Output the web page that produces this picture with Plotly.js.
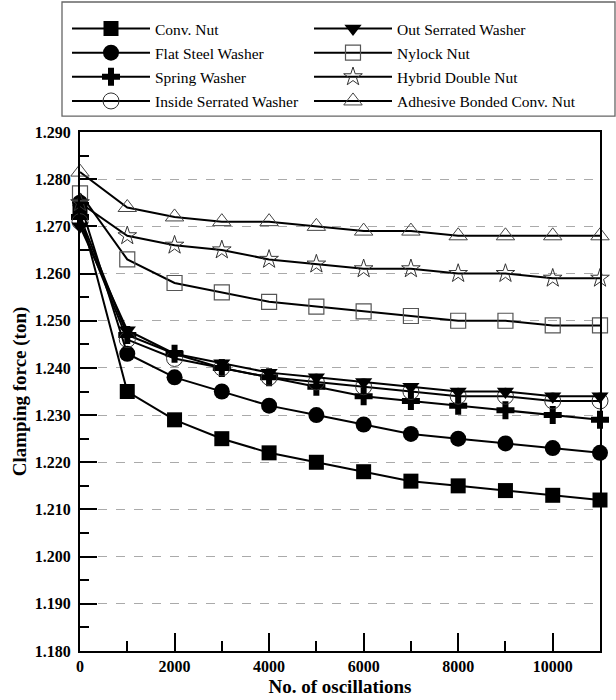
<!DOCTYPE html>
<html><head><meta charset="utf-8">
<script src="https://cdn.plot.ly/plotly-3.0.1.min.js"></script>
<style>html,body{margin:0;padding:0;background:#fff}#chart{width:616px;height:700px}</style>
</head><body><div id="chart"></div>
<script>
const oscillations = [0,1000,2000,3000,4000,5000,6000,7000,8000,9000,10000,11000];
const convNut        = [1.273,1.235,1.229,1.225,1.222,1.220,1.218,1.216,1.215,1.214,1.213,1.212];
const flatSteel      = [1.275,1.243,1.238,1.235,1.232,1.230,1.228,1.226,1.225,1.224,1.223,1.222];
const springWasher   = [1.272,1.247,1.243,1.240,1.238,1.236,1.234,1.233,1.232,1.231,1.230,1.229];
const insideSerrated = [1.271,1.246,1.242,1.240,1.238,1.237,1.236,1.235,1.234,1.234,1.233,1.233];
const outSerrated    = [1.270,1.248,1.243,1.241,1.239,1.238,1.237,1.236,1.235,1.235,1.234,1.234];
const nylockNut      = [1.277,1.263,1.258,1.256,1.254,1.253,1.252,1.251,1.250,1.250,1.249,1.249];
const hybridDouble   = [1.275,1.268,1.266,1.265,1.263,1.262,1.261,1.261,1.260,1.260,1.259,1.259];
const adhesiveBonded = [1.2815,1.274,1.272,1.271,1.271,1.270,1.269,1.269,1.268,1.268,1.268,1.268];
const seriesNames = ['Conv. Nut','Flat Steel Washer','Spring Washer','Inside Serrated Washer',
                     'Out Serrated Washer','Nylock Nut','Hybrid Double Nut','Adhesive Bonded Conv. Nut'];
const xTickVals = [0,2000,4000,6000,8000,10000];

const FONT = 'Liberation Serif, Times New Roman, serif';
const seriesData = [convNut, flatSteel, springWasher, insideSerrated, outSerrated, nylockNut, hybridDouble, adhesiveBonded];
const markerStyles = [
  {symbol:'square', size:15, color:'#000'},
  {symbol:'circle', size:16, color:'#000'},
  {symbol:'cross', size:15, color:'#000'},
  {symbol:'circle-open', size:16, color:'#333', line:{width:1,color:'#333'}},
  {symbol:'triangle-down', size:15, color:'#000'},
  {symbol:'square-open', size:15, color:'#555', line:{width:1.2,color:'#555'}},
  {symbol:'star-open', size:14, color:'#333', line:{width:1,color:'#333'}},
  {symbol:'triangle-up-open', size:16, color:'#444', line:{width:1,color:'#444'}}
];
const traces = seriesData.map((y,i)=>({
  type:'scatter', mode:'lines+markers', x:oscillations, y:y, name:seriesNames[i],
  legendgroup:'g'+i,
  line:{color:'#000', width:2}, marker:markerStyles[i],
  legend: i<4 ? 'legend' : 'legend2', cliponaxis:false
}));

const L=80, R=600, T=128, B=651, W=616, H=700;
const px2x = p => (p-L)/(R-L);
const py2y = p => (B-p)/(B-T);

const legendCommon = {
  font:{family:FONT, size:15.5, color:'#000'}, bgcolor:'rgba(0,0,0,0)', borderwidth:0,
  yanchor:'top', xanchor:'left', itemwidth:78, tracegroupgap:1, traceorder:'grouped'
};
const layout = {
  width:W, height:H, margin:{l:L, r:W-R, t:T, b:H-B},
  paper_bgcolor:'#fff', plot_bgcolor:'#fff',
  font:{family:FONT, color:'#000'},
  showlegend:true,
  legend:Object.assign({}, legendCommon, {x:px2x(67), y:py2y(7)}),
  legend2:Object.assign({}, legendCommon, {x:px2x(309), y:py2y(7)}),
  xaxis:{range:[0,11000], tickvals:xTickVals, tickformat:'d', ticks:'inside', ticklen:18, tickwidth:2, tickcolor:'#000',
    showline:true, linewidth:2, linecolor:'#000', mirror:true, showgrid:false, zeroline:false,
    minor:{tickvals:[1000,3000,5000,7000,9000], ticks:'inside', ticklen:10, tickwidth:2, tickcolor:'#000', showgrid:false},
    tickfont:{family:FONT, size:16, weight:'bold', color:'#000'},
    title:{text:'No. of oscillations', font:{family:FONT, size:19, weight:'bold', color:'#000'}, standoff:5}},
  yaxis:{range:[1.180,1.290], dtick:0.01, tick0:1.18, tickformat:'.3f', ticks:'inside', ticklen:17, tickwidth:2, tickcolor:'#000',
    showline:true, linewidth:2, linecolor:'#000', mirror:true, zeroline:false,
    showgrid:true, gridcolor:'#aaa', gridwidth:1, griddash:'dash',
    minor:{dtick:0.005, ticks:'inside', ticklen:9, tickwidth:2, tickcolor:'#000', showgrid:false},
    tickfont:{family:FONT, size:16, weight:'bold', color:'#000'}, ticklabelstandoff:4,
    title:{text:'Clamping force (ton)', font:{family:FONT, size:19, weight:'bold', color:'#000'}, standoff:3}},
  shapes:[{type:'rect', xref:'paper', yref:'paper', x0:px2x(62), x1:px2x(615), y0:py2y(112), y1:py2y(-3),
    line:{color:'#666', width:1.3}, fillcolor:'rgba(0,0,0,0)', layer:'below'}]
};
Plotly.newPlot('chart', traces, layout, {displayModeBar:false, staticPlot:true});
</script></body></html>
